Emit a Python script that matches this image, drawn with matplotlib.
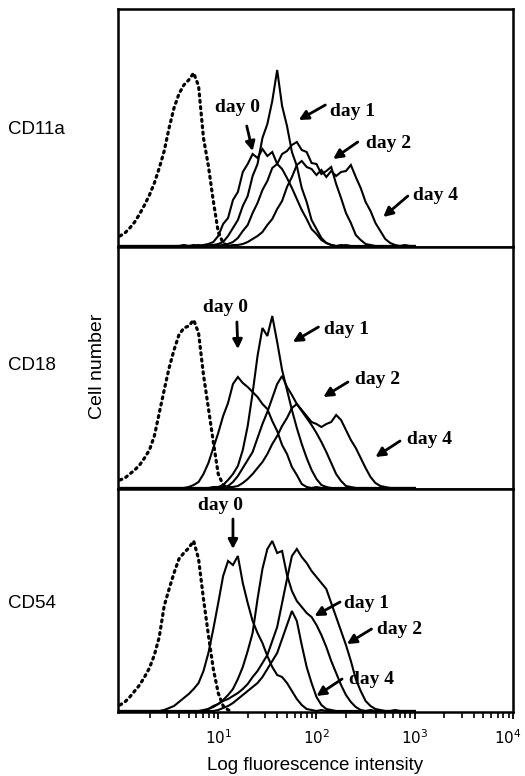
import numpy as np
import matplotlib
matplotlib.use('Agg')
import matplotlib.pyplot as plt
import matplotlib.transforms as mtransforms
from matplotlib.ticker import FixedLocator, FixedFormatter, LogLocator, NullFormatter

plt.rcParams['mathtext.fontset'] = 'custom'
plt.rcParams['mathtext.rm'] = 'Liberation Sans'

# channel positions in decades (log10 of fluorescence intensity)
decades = np.linspace(0, 3, 61)
intensity = 10 ** decades

markers = ['CD11a', 'CD18', 'CD54']
day_labels = ['day 0', 'day 1', 'day 2', 'day 4']

# ---- CD11a ----
cd11a_control = [10,13,18,24,32,41,51,63,78,95, 118,138,152,161,166,173,160,108,80,45,
                 14,3,0,0,0,0,0,0,0,0, 0,0,0,0,0,0,0,0,0,0,
                 0,0,0,0,0,0,0,0,0,0, 0,0,0,0,0,0,0,0,0,0, 0]
cd11a_day0 = [0,0,0,0,0,0,0,0,0,0, 0,0,0,1,0,1,0,1,2,4,
              10,22,28,46,54,74,82,92,88,97, 90,94,82,77,68,58,47,36,27,17,
              12,6,3,1,0,1,0,0,0,0, 0,0,0,0,0,0,0,0,0,0, 0]
cd11a_day1 = [0,0,0,0,0,0,0,0,0,0, 0,0,0,0,0,0,1,0,1,1,
              2,4,10,18,26,40,50,70,82,108, 122,145,176,140,120,94,80,58,44,26,
              17,8,3,1,0,0,1,0,0,0, 0,0,0,0,0,0,0,0,0,0, 0]
cd11a_day2 = [0,0,0,0,0,0,0,0,0,0, 0,0,0,0,0,0,0,0,0,1,
              0,1,2,4,8,15,21,33,43,56, 65,78,82,92,95,101,104,96,94,83,
              82,72,75,79,62,48,33,23,11,6, 2,1,0,0,0,0,0,0,0,0, 0]
cd11a_day4 = [0,0,0,0,0,0,0,0,0,0, 0,0,0,0,0,0,0,0,0,0,
              0,1,0,1,1,2,4,7,10,14, 21,27,37,45,59,69,81,85,79,77,
              71,76,69,75,70,74,75,81,69,58, 44,35,23,15,7,3,1,0,1,0, 0]

# ---- CD18 ----
cd18_control = [8,10,14,18,23,30,38,52,75,98, 120,138,153,160,162,168,155,113,80,46,
                14,3,0,0,0,0,0,0,0,0, 0,0,0,0,0,0,0,0,0,0,
                0,0,0,0,0,0,0,0,0,0, 0,0,0,0,0,0,0,0,0,0, 0]
cd18_day0 = [0,0,0,0,0,0,0,0,0,0, 0,0,0,0,1,3,6,14,25,40,
             55,72,85,104,111,105,101,96,91,84, 79,67,57,43,34,21,13,4,1,0,
             1,0,0,0,0,0,0,0,0,0, 0,0,0,0,0,0,0,0,0,0, 0]
cd18_day1 = [0,0,0,0,0,0,0,0,0,0, 0,0,0,0,0,0,0,0,0,1,
             1,3,8,14,22,38,62,95,132,160, 152,172,146,118,98,78,60,44,30,18,
             9,3,1,0,0,0,0,0,0,0, 0,0,0,0,0,0,0,0,0,0, 0]
cd18_day2 = [0,0,0,0,0,0,0,0,0,0, 0,0,0,0,0,0,0,0,0,0,
             0,1,2,6,12,20,28,36,50,64, 76,90,104,112,101,93,84,77,70,63,
             55,46,36,25,14,7,2,1,0,0, 0,0,0,0,0,0,0,0,0,0, 0]
cd18_day4 = [0,0,0,0,0,0,0,0,0,0, 0,0,0,0,0,0,0,0,0,0,
             0,0,1,1,2,5,9,14,20,26, 34,44,52,62,70,80,84,78,72,66,
             64,61,64,66,73,68,58,48,40,30, 20,11,5,2,1,0,0,0,0,0, 0]

# ---- CD54 ----
cd54_control = [6,9,14,20,26,34,43,56,74,105, 122,138,152,158,163,170,152,112,76,42,
                18,5,1,0,0,0,0,0,0,0, 0,0,0,0,0,0,0,0,0,0,
                0,0,0,0,0,0,0,0,0,0, 0,0,0,0,0,0,0,0,0,0, 0]
cd54_day0 = [0,0,0,0,0,0,0,0,0,1, 3,5,9,13,17,22,28,40,58,82,
             108,135,150,146,155,128,108,90,78,68, 55,44,36,34,28,20,12,6,2,1,
             0,1,0,0,0,0,0,0,0,0, 0,0,0,0,0,0,0,0,0,0, 0]
cd54_day1 = [0,0,0,0,0,0,0,0,0,0, 0,0,0,0,0,0,0,1,2,4,
             7,11,16,22,32,44,60,78,112,142, 162,170,158,160,136,120,110,104,98,94,
             86,76,64,50,38,26,16,9,4,1, 0,1,0,0,0,0,0,0,0,0, 0]
cd54_day2 = [0,0,0,0,0,0,0,0,0,0, 0,0,0,0,0,0,0,0,2,5,
             7,10,12,15,18,22,27,34,40,48, 56,70,84,108,132,155,162,154,148,140,
             134,128,122,108,94,80,66,50,32,20, 10,5,2,1,0,0,1,0,0,0, 0]
cd54_day4 = [0,0,0,0,0,0,0,0,0,0, 0,0,0,0,0,0,0,0,0,0,
             1,3,5,8,12,16,20,24,28,34, 42,50,58,72,86,100,90,66,44,28,
             14,6,2,1,0,0,0,0,0,0, 0,0,0,0,0,0,0,0,0,0, 0]

controls = [cd11a_control, cd18_control, cd54_control]
stained = [[cd11a_day0, cd11a_day1, cd11a_day2, cd11a_day4],
           [cd18_day0, cd18_day1, cd18_day2, cd18_day4],
           [cd54_day0, cd54_day1, cd54_day2, cd54_day4]]

# annotation anchors: (text decade, text count, arrow tail decade, tail count, tip decade, tip count)
cd11a_notes = [(1.20, 139, 1.29, 120, 1.35, 95),
               (2.37, 135, 2.09, 141, 1.82, 126),
               (2.73, 103, 2.42, 104, 2.17, 87),
               (3.21, 51, 2.93, 50, 2.68, 29)]
cd18_notes = [(1.07, 181, 1.19, 166, 1.20, 139),
              (2.31, 159, 2.02, 161, 1.76, 146),
              (2.62, 108, 2.32, 106, 2.07, 91),
              (3.15, 48, 2.85, 47, 2.60, 31)]
cd54_notes = [(1.02, 205, 1.15, 192, 1.15, 162),
              (2.51, 108, 2.24, 109, 1.98, 95),
              (2.85, 82, 2.56, 82, 2.31, 67),
              (2.56, 32, 2.26, 32, 2.00, 15)]
notes = [cd11a_notes, cd18_notes, cd54_notes]

tick_values = [10, 100, 1000, 10000]
tick_labels = [r'$\mathregular{10^{1}}$', r'$\mathregular{10^{2}}$',
               r'$\mathregular{10^{3}}$', r'$\mathregular{10^{4}}$']

W, H = 525, 776
fig = plt.figure(figsize=(W / 100, H / 100), dpi=100)

# panel pixel extents (top, bottom)
panels_px = [(9, 247), (247, 489), (489, 712)]
left_px, right_px = 118, 513
label_y_px = [130, 365, 604]

axes = []
for k, (t, b) in enumerate(panels_px):
    ax = fig.add_axes([left_px / W, 1 - b / H, (right_px - left_px) / W, (b - t) / H])
    axes.append(ax)
    ax.set_xscale('log')
    ax.set_xlim(10 ** -0.02, 1e4)
    ax.set_ylim(-1, b - t - 1)
    ctrl = np.asarray(controls[k])
    n = len(np.trim_zeros(ctrl, 'b')) + 1
    ax.plot(intensity[:n], ctrl[:n], color='black', lw=2.3,
            linestyle=(0, (0.6, 1.4)), dash_capstyle='round')
    for series in stained[k]:
        ax.plot(intensity, series, color='black', lw=1.5, solid_joinstyle='miter')
    for lab, (tx, ty, ax0, ay0, ax1, ay1) in zip(day_labels, notes[k]):
        ax.text(10 ** tx, ty, lab, ha='center', va='center',
                family='Liberation Serif', fontweight='bold', fontsize=14)
        ax.annotate('', xy=(10 ** ax1, ay1), xytext=(10 ** ax0, ay0),
                    arrowprops=dict(arrowstyle='-|>,head_length=0.55,head_width=0.28',
                                    lw=2.0, color='black', shrinkA=0, shrinkB=0))
    for s in ax.spines.values():
        s.set_linewidth(1.8)
    ax.set_yticks([])
    if k < 2:
        ax.tick_params(axis='x', which='both', bottom=False, labelbottom=False)
    else:
        ax.xaxis.set_major_locator(FixedLocator(tick_values))
        ax.xaxis.set_major_formatter(FixedFormatter(tick_labels))
        ax.xaxis.set_minor_locator(LogLocator(base=10, subs=np.arange(2, 10), numticks=20))
        ax.xaxis.set_minor_formatter(NullFormatter())
        ax.tick_params(axis='x', which='major', direction='out', length=5, width=1.3,
                       pad=7, labelsize=11)
        ax.tick_params(axis='x', which='minor', direction='out', length=4, width=1.2)
        fig.canvas.draw()
        last = ax.get_xticklabels()[-1]
        last.set_transform(last.get_transform() +
                           mtransforms.ScaledTranslation(-5 / 100, 0, fig.dpi_scale_trans))
    fig.text(8 / W, 1 - label_y_px[k] / H, markers[k], ha='left', va='center',
             family='Liberation Sans', fontsize=13.5)

fig.text(98 / W, 1 - 366 / H, 'Cell number', rotation=90, ha='center', va='center',
         family='Liberation Sans', fontsize=14)
fig.text(315 / W, 1 - 765 / H, 'Log fluorescence intensity', ha='center', va='center',
         family='Liberation Sans', fontsize=13.5)

fig.savefig('out.png', dpi=100)
